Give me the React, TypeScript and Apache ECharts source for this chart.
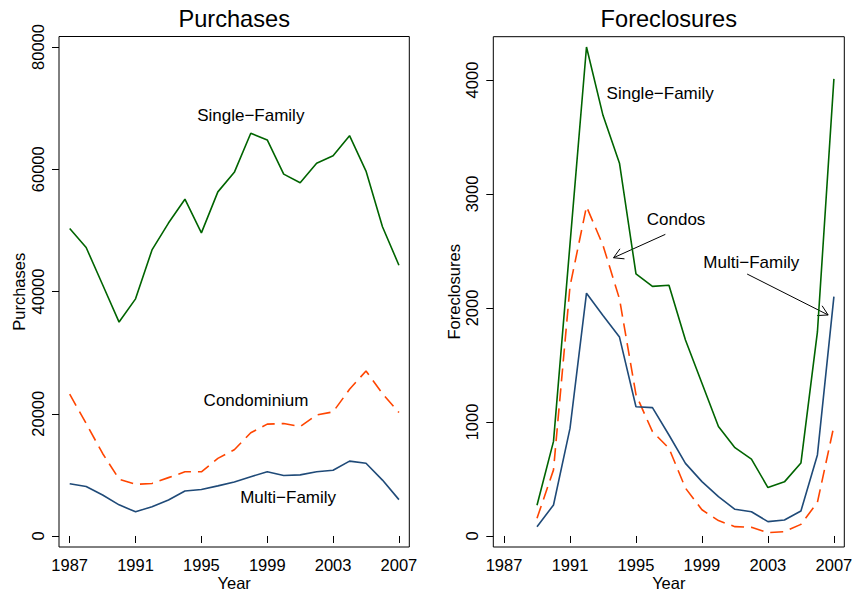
import React, { useEffect, useRef } from "react";
import * as echarts from "echarts";

const years = [1987, 1988, 1989, 1990, 1991, 1992, 1993, 1994, 1995, 1996, 1997, 1998, 1999, 2000, 2001, 2002, 2003, 2004, 2005, 2006, 2007];

const purchSingle = [50300, 47200, 41100, 35000, 38800, 46800, 51200, 55100, 49600, 56300, 59500, 65900, 64800, 59200, 57800, 61000, 62200, 65500, 59700, 50600, 44300];
const purchCondo = [23200, 18400, 13500, 9300, 8450, 8600, 9550, 10500, 10500, 12700, 14100, 16900, 18300, 18400, 17900, 19800, 20300, 24000, 27000, 23300, 20200];
const purchMulti = [8550, 8100, 6700, 5100, 3950, 4800, 5900, 7350, 7600, 8200, 8850, 9700, 10500, 9900, 10000, 10500, 10750, 12250, 11900, 9150, 5950];

const foreSingle = [null, null, 270, 830, 2560, 4290, 3690, 3270, 2300, 2190, 2200, 1720, 1340, 960, 775, 675, 425, 475, 640, 1790, 4010];
const foreCondo = [null, null, 155, 580, 2190, 2890, 2550, 2080, 1240, 915, 770, 420, 230, 135, 82, 76, 30, 38, 102, 295, 965];
const foreMulti = [null, null, 82, 272, 944, 2130, 1935, 1745, 1134, 1126, 886, 637, 477, 345, 234, 213, 126, 140, 219, 711, 2100];

const xTicks = [1987, 1991, 1995, 1999, 2003, 2007];
const purchTicks = [0, 20000, 40000, 60000, 80000];
const foreTicks = [0, 1000, 2000, 3000, 4000];

const purchLabels = [
  { text: "Single\u2212Family", x: 1998.0, y: 68870 },
  { text: "Condominium", x: 1998.32, y: 22220 },
  { text: "Multi\u2212Family", x: 2000.27, y: 6380 },
];
const foreLabels = [
  { text: "Single\u2212Family", x: 1996.47, y: 3886 },
  { text: "Condos", x: 1997.43, y: 2775 },
  { text: "Multi\u2212Family", x: 2001.99, y: 2395 },
];
const foreArrows = [
  [1996.78, 2646, 1993.64, 2441],
  [2001.74, 2298, 2006.65, 1939],
];

const FONT = "Liberation Sans, Arial, Helvetica, sans-serif";
const GREEN = "#006400";
const ORANGE = "#FF4500";
const BLUE = "#1F4A78";

function pairs(vals: (number | null)[]) {
  return years.map((y, i) => [y, vals[i]]);
}

function xAxis(gridIndex: number) {
  return {
    type: "value",
    gridIndex,
    min: 1986.35,
    max: 2007.63,
    axisLine: { show: false },
    splitLine: { show: false },
    axisTick: { show: true, length: 7, customValues: xTicks, lineStyle: { color: "#000", width: 1 } },
    axisLabel: {
      customValues: xTicks,
      fontSize: 16.5,
      fontFamily: FONT,
      color: "#000",
      margin: 9,
      formatter: (v: number) => String(v),
    },
  };
}

function yAxis(gridIndex: number, min: number, max: number, ticks: number[]) {
  return {
    type: "value",
    gridIndex,
    min,
    max,
    axisLine: { show: false },
    splitLine: { show: false },
    axisTick: { show: true, length: 7, customValues: ticks, lineStyle: { color: "#000", width: 1 } },
    axisLabel: {
      customValues: ticks,
      rotate: 90,
      fontSize: 16.5,
      fontFamily: FONT,
      color: "#000",
      margin: 12.5,
      formatter: (v: number) => String(v),
    },
  };
}

function lineSeries(idx: number, vals: (number | null)[], color: string, dashed: boolean) {
  return {
    type: "line",
    xAxisIndex: idx,
    yAxisIndex: idx,
    data: pairs(vals),
    showSymbol: false,
    symbol: "none",
    connectNulls: false,
    lineStyle: { color, width: 1.6, type: dashed ? [13, 7] : "solid" },
    silent: true,
    z: 3,
  };
}

function textSeries(idx: number, labels: { text: string; x: number; y: number }[]) {
  return {
    type: "custom",
    xAxisIndex: idx,
    yAxisIndex: idx,
    silent: true,
    clip: false,
    data: labels.map((l) => [l.x, l.y]),
    encode: { x: 0, y: 1 },
    renderItem: (params: any, api: any) => {
      const p = api.coord([api.value(0), api.value(1)]);
      return {
        type: "text",
        x: p[0],
        y: p[1],
        style: {
          text: labels[params.dataIndex].text,
          font: `17px ${FONT}`,
          fill: "#000",
          textAlign: "center",
          textVerticalAlign: "middle",
        },
      };
    },
  };
}

function arrowSeries(idx: number, arrows: number[][]) {
  return {
    type: "custom",
    xAxisIndex: idx,
    yAxisIndex: idx,
    silent: true,
    clip: false,
    data: arrows,
    encode: { x: [0, 2], y: [1, 3] },
    renderItem: (params: any, api: any) => {
      const p1 = api.coord([api.value(0), api.value(1)]);
      const p2 = api.coord([api.value(2), api.value(3)]);
      const ang = Math.atan2(p2[1] - p1[1], p2[0] - p1[0]);
      const L = 11;
      const a = Math.PI / 6;
      const h1 = [p2[0] - L * Math.cos(ang - a), p2[1] - L * Math.sin(ang - a)];
      const h2 = [p2[0] - L * Math.cos(ang + a), p2[1] - L * Math.sin(ang + a)];
      return {
        type: "group",
        children: [
          { type: "line", shape: { x1: p1[0], y1: p1[1], x2: p2[0], y2: p2[1] }, style: { stroke: "#000", lineWidth: 1 } },
          { type: "polyline", shape: { points: [h1, p2, h2] }, style: { stroke: "#000", fill: null, lineWidth: 1 } },
        ],
      };
    },
  };
}

export default function App() {
  const ref = useRef<HTMLDivElement>(null);
  useEffect(() => {
    if (!ref.current) return;
    const chart = echarts.init(ref.current, null, { renderer: "svg" });
    const option: any = {
      animation: false,
      backgroundColor: "#fff",
      grid: [
        { left: 59, top: 36.5, width: 350.3, height: 510.5, show: true, borderColor: "#000", borderWidth: 1, outerBoundsMode: "none", containLabel: false },
        { left: 493.3, top: 36.7, width: 351, height: 510.3, show: true, borderColor: "#000", borderWidth: 1, outerBoundsMode: "none", containLabel: false },
      ],
      xAxis: [xAxis(0), xAxis(1)],
      yAxis: [yAxis(0, -1800, 81720, purchTicks), yAxis(1, -96.5, 4380, foreTicks)],
      graphic: [
        { type: "text", x: 234.2, y: 19, style: { text: "Purchases", font: `23.6px ${FONT}`, fill: "#000", textAlign: "center", textVerticalAlign: "middle" } },
        { type: "text", x: 668.8, y: 19, style: { text: "Foreclosures", font: `23.6px ${FONT}`, fill: "#000", textAlign: "center", textVerticalAlign: "middle" } },
        { type: "text", x: 234.2, y: 582.5, style: { text: "Year", font: `16.5px ${FONT}`, fill: "#000", textAlign: "center", textVerticalAlign: "middle" } },
        { type: "text", x: 668.8, y: 582.5, style: { text: "Year", font: `16.5px ${FONT}`, fill: "#000", textAlign: "center", textVerticalAlign: "middle" } },
        { type: "text", x: 19, y: 291.8, rotation: Math.PI / 2, style: { text: "Purchases", font: `16.5px ${FONT}`, fill: "#000", textAlign: "center", textVerticalAlign: "middle" } },
        { type: "text", x: 453.5, y: 291.8, rotation: Math.PI / 2, style: { text: "Foreclosures", font: `16.5px ${FONT}`, fill: "#000", textAlign: "center", textVerticalAlign: "middle" } },
      ],
      series: [
        lineSeries(0, purchSingle, GREEN, false),
        lineSeries(0, purchCondo, ORANGE, true),
        lineSeries(0, purchMulti, BLUE, false),
        lineSeries(1, foreSingle, GREEN, false),
        lineSeries(1, foreCondo, ORANGE, true),
        lineSeries(1, foreMulti, BLUE, false),
        textSeries(0, purchLabels),
        textSeries(1, foreLabels),
        arrowSeries(1, foreArrows),
      ],
    };
    chart.setOption(option);
    return () => chart.dispose();
  }, []);
  return <div ref={ref} style={{ position: "fixed", left: 0, top: 0, width: 857, height: 593 }} />;
}
